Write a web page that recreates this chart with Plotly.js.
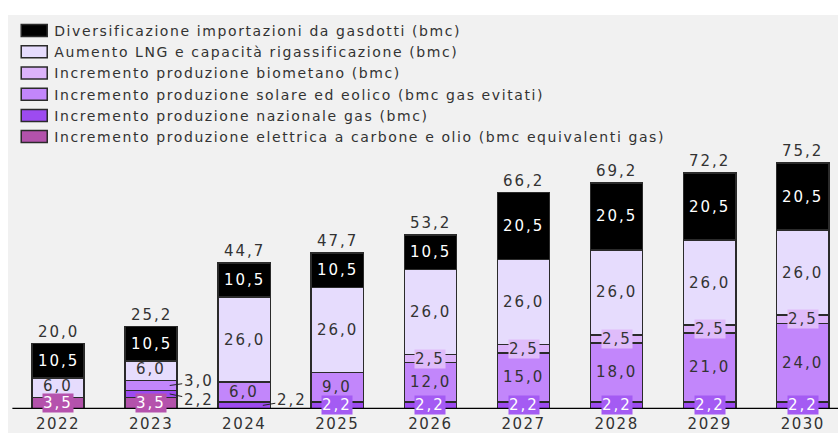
<!DOCTYPE html>
<html>
<head>
<meta charset="utf-8">
<script src="https://cdn.plot.ly/plotly-3.0.1.min.js"></script>
<style>
  html, body { margin: 0; padding: 0; background: #ffffff; }
  #chart { position: absolute; left: 8px; top: 15px; width: 830px; height: 418px; }
  text.annotation-text { letter-spacing: 2px; }
  text.legendtext { letter-spacing: 1.6px; }
  .xtick text { letter-spacing: 1.5px; }
</style>
</head>
<body>
<div id="chart"></div>
<script>
// anni e serie (bmc)
var anni = ['2022', '2023', '2024', '2025', '2026', '2027', '2028', '2029', '2030'];
var carboneOlio = [3.5, 3.5, 0, 0, 0, 0, 0, 0, 0];
var nazionaleGas = [0, 2.2, 2.2, 2.2, 2.2, 2.2, 2.2, 2.2, 2.2];
var solareEolico = [0, 3.0, 6.0, 9.0, 12.0, 15.0, 18.0, 21.0, 24.0];
var biometano = [0, 0, 0, 0, 2.5, 2.5, 2.5, 2.5, 2.5];
var lng = [6.0, 6.0, 26.0, 26.0, 26.0, 26.0, 26.0, 26.0, 26.0];
var gasdotti = [10.5, 10.5, 10.5, 10.5, 10.5, 20.5, 20.5, 20.5, 20.5];

var nomi = [
  'Incremento produzione elettrica a carbone e olio (bmc equivalenti gas)',
  'Incremento produzione nazionale gas (bmc)',
  'Incremento produzione solare ed eolico (bmc gas evitati)',
  'Incremento produzione biometano (bmc)',
  'Aumento LNG e capacità rigassificazione (bmc)',
  'Diversificazione importazioni da gasdotti (bmc)'
];
var colori = ['#b352ab', '#9d4bf0', '#c286fb', '#dcb3fa', '#e6dcfd', '#000000'];
var serie = [carboneOlio, nazionaleGas, solareEolico, biometano, lng, gasdotti];

var FONT = 'DejaVu Sans, sans-serif';
var TXT = '#333333';

function fmt(v) { return v.toFixed(1).replace('.', ','); }

var data = [];
for (var s = 0; s < serie.length; s++) {
  data.push({
    type: 'bar',
    name: nomi[s],
    x: anni,
    y: serie[s],
    marker: { color: colori[s], line: { color: '#2b2b2b', width: 1.5 } },
    hoverinfo: 'x+y+name'
  });
}

// etichette fuori dalla barra: [serie, anno, ax, ay]
var fuori = [[2, 1, 29, -4], [1, 1, 29, 6], [1, 2, 29, -5]];

var ann = [];
var base = anni.map(function () { return 0; });
for (var s = 0; s < serie.length; s++) {
  for (var i = 0; i < anni.length; i++) {
    var v = serie[s][i];
    if (v <= 0) continue;
    var mid = base[i] + v / 2;
    var a = {
      x: i, y: mid, xref: 'x', yref: 'y', text: fmt(v), showarrow: false,
      font: { family: FONT, size: 15, color: TXT }
    };
    var out = fuori.filter(function (f) { return f[0] == s && f[1] == i; })[0];
    if (out) {
      a.x = i + 0.2; a.showarrow = true; a.arrowhead = 0; a.arrowwidth = 1;
      a.arrowcolor = '#222'; a.ax = out[2]; a.ay = out[3];
    } else if (s == 0) {
      a.font.color = '#ffffff'; a.bgcolor = '#b552ad'; a.borderpad = 0;
    } else if (s == 1) {
      a.font.color = '#ffffff'; a.bgcolor = '#a45bf3'; a.borderpad = 0;
    } else if (s == 3) {
      a.bgcolor = '#dfbcfa'; a.borderpad = 0;
    } else if (s == 4 && i < 2) {
      a.yshift = 2;
    } else if (s == 5) {
      a.font.color = '#ffffff';
    }
    ann.push(a);
    base[i] += v;
  }
}
// totali
for (var i = 0; i < anni.length; i++) {
  ann.push({
    x: i, y: base[i], xref: 'x', yref: 'y', text: fmt(base[i]), showarrow: false,
    yanchor: 'bottom', yshift: 1,
    font: { family: FONT, size: 15, color: TXT }
  });
}

var layout = {
  width: 830, height: 418,
  margin: { l: 0, r: 0, t: 126, b: 24, autoexpand: false },
  paper_bgcolor: '#f1f1f1',
  plot_bgcolor: '#f1f1f1',
  barmode: 'stack',
  bargap: 0.44,
  font: { family: FONT, color: TXT },
  showlegend: true,
  legend: {
    x: 0.0075, y: 1, xref: 'paper', yref: 'container', xanchor: 'left', yanchor: 'top',
    traceorder: 'reversed', bgcolor: 'rgba(0,0,0,0)',
    font: { family: FONT, size: 14, color: TXT }
  },
  xaxis: {
    type: 'category', range: [-0.537, 8.378], showgrid: false, zeroline: false,
    showline: false, ticks: '', ticklabelstandoff: 4, automargin: false,
    tickfont: { family: FONT, size: 15, color: TXT }
  },
  yaxis: { range: [0, 82], visible: false, fixedrange: true, automargin: false },
  shapes: [{
    type: 'line', xref: 'x', yref: 'y', x0: -0.49, x1: 8.378, y0: 0, y1: 0,
    line: { color: '#000000', width: 2.5 }
  }],
  annotations: ann
};

Plotly.newPlot('chart', data, layout, { displayModeBar: false, staticPlot: true }).then(function (gd) {
  // campioni della legenda piu larghi, come nell'originale
  var pts = gd.querySelectorAll('.legendpoints path');
  for (var k = 0; k < pts.length; k++) {
    pts[k].setAttribute('d', 'M13,6H-13V-6H13Z');
  }
});
</script>
</body>
</html>
